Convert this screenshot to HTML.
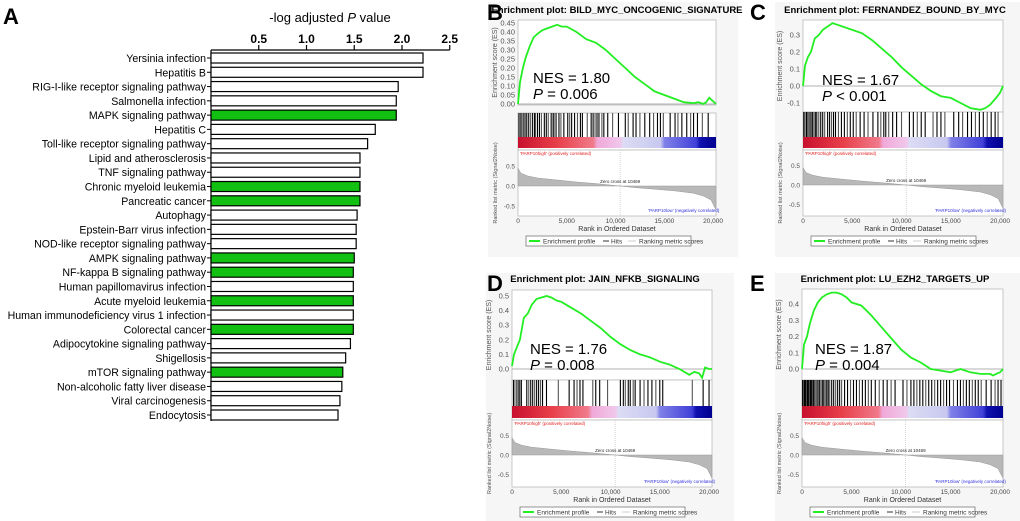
<!DOCTYPE html>
<html><head><meta charset="utf-8"><style>
body{margin:0;background:#fff;}
svg{display:block;font-family:"Liberation Sans",Arial,sans-serif;}
</style></head><body>
<svg id="fig" width="1020" height="521" viewBox="0 0 1020 521">
<defs>
<linearGradient id="cbar" x1="0" x2="1" y1="0" y2="0">
<stop offset="0" stop-color="#c8102e"/><stop offset="0.2" stop-color="#e8404a"/><stop offset="0.38" stop-color="#f07a8a"/>
<stop offset="0.4" stop-color="#f0a8d8"/><stop offset="0.52" stop-color="#f0c8ec"/><stop offset="0.53" stop-color="#dcdcf4"/>
<stop offset="0.72" stop-color="#c8c8f0"/><stop offset="0.74" stop-color="#8080e8"/><stop offset="0.9" stop-color="#4040d8"/>
<stop offset="0.92" stop-color="#1010b0"/><stop offset="1" stop-color="#000090"/>
</linearGradient>
</defs>
<g id="panelA"></g>
<g id="gsea"></g>
</svg>
<script>
const NS="http://www.w3.org/2000/svg";
// Panel A data
const pathways=["Yersinia infection","Hepatitis B","RIG-I-like  receptor  signaling  pathway","Salmonella infection","MAPK signaling pathway","Hepatitis C","Toll-like receptor signaling pathway","Lipid and atherosclerosis","TNF signaling pathway","Chronic myeloid leukemia","Pancreatic cancer","Autophagy","Epstein-Barr virus infection","NOD-like receptor signaling pathway","AMPK signaling pathway","NF-kappa B signaling pathway","Human papillomavirus  infection","Acute myeloid leukemia","Human immunodeficiency virus 1 infection","Colorectal cancer","Adipocytokine signaling pathway","Shigellosis","mTOR signaling pathway","Non-alcoholic fatty liver disease","Viral carcinogenesis","Endocytosis"];
const logP=[2.22,2.22,1.96,1.94,1.94,1.72,1.64,1.56,1.56,1.56,1.56,1.53,1.52,1.52,1.50,1.49,1.49,1.49,1.49,1.49,1.46,1.41,1.38,1.37,1.35,1.33];
const highlighted=[0,0,0,0,1,0,0,0,0,1,1,0,0,0,1,1,0,1,0,1,0,0,1,0,0,0];
const xTicks=[0.5,1.0,1.5,2.0,2.5];

// GSEA data
const panelLetters=["B","C","D","E"];
const titles=["Enrichment plot: BILD_MYC_ONCOGENIC_SIGNATURE","Enrichment plot: FERNANDEZ_BOUND_BY_MYC","Enrichment plot: JAIN_NFKB_SIGNALING","Enrichment plot: LU_EZH2_TARGETS_UP"];
const nesText=["NES = 1.80","NES = 1.67","NES = 1.76","NES = 1.87"];
const pText=[" = 0.006"," < 0.001"," = 0.008"," = 0.004"];
const esRanks=[0,200,500,800,1200,1600,2000,2500,3000,3500,4000,4500,5000,6000,7000,8000,9000,10000,11000,12000,13000,14000,15000,16000,17000,18000,18500,19000,19300,19600,20000,20300];
const esB=[0,0.12,0.2,0.26,0.32,0.37,0.39,0.41,0.42,0.43,0.44,0.43,0.43,0.40,0.36,0.34,0.30,0.25,0.20,0.15,0.11,0.07,0.05,0.03,0.01,0.005,0.01,0.0,0.01,0.035,0.015,0.0];
const esC=[0,0.12,0.17,0.2,0.28,0.3,0.33,0.35,0.37,0.36,0.35,0.34,0.33,0.31,0.27,0.22,0.17,0.11,0.06,0.01,-0.03,-0.06,-0.07,-0.1,-0.13,-0.14,-0.13,-0.11,-0.09,-0.07,-0.04,0.0];
const esD=[0.02,0.1,0.15,0.2,0.35,0.38,0.44,0.48,0.49,0.5,0.49,0.47,0.46,0.42,0.38,0.33,0.28,0.22,0.17,0.13,0.10,0.08,0.05,0.03,0.0,-0.04,-0.02,-0.03,-0.06,0.01,0.0,0.0];
const esE=[0,0.15,0.2,0.28,0.36,0.41,0.44,0.46,0.47,0.47,0.46,0.44,0.41,0.39,0.33,0.26,0.19,0.12,0.07,0.04,0.0,-0.01,-0.02,0.0,-0.02,-0.03,-0.03,-0.03,-0.04,-0.03,-0.02,0.0];
const esSeries=[esB,esC,esD,esE];
const yTickB=[0,0.05,0.1,0.15,0.2,0.25,0.3,0.35,0.4,0.45];
const yTickC=[-0.1,0,0.1,0.2,0.3];
const yTickD=[0,0.1,0.2,0.3,0.4,0.5];
const yTickE=[0,0.1,0.2,0.3,0.4];
const yTickSets=[yTickB,yTickC,yTickD,yTickE];
const hitsB=[100,250,400,600,750,900,1100,1300,1500,1700,1800,2000,2200,2400,2700,2900,3100,3400,3600,3700,3900,4200,4400,4700,5100,5300,5500,5800,6100,6400,6600,7100,7500,7700,7900,8100,8300,8600,8800,9200,9700,10300,11000,11300,11800,12100,12500,13000,13500,13900,14300,14600,14900,15600,16100,16400,16800,17300,17700,18000,18400,18900,19500];
const hitsC=[80,200,350,500,650,800,950,1100,1250,1400,1600,1800,2000,2200,2500,2700,2900,3100,3300,3600,3900,4200,4500,4800,5100,5400,5800,6200,6600,7100,7600,7900,8200,8400,8700,9100,9500,10000,10800,11200,11600,12000,12400,13200,13600,14000,14400,15300,15800,16200,16700,17100,17500,17900,18300,18700,19100,19500,19800];
const hitsD=[150,300,500,700,800,950,1500,1700,1900,2100,2300,2500,2700,2900,3100,3500,4700,5800,6300,6600,6900,7200,8200,8500,8900,9700,11000,11300,11500,11800,12000,12300,12500,13000,13400,13800,14200,14600,15000,15300,18300,19400,20000];
const hitsE=[50,150,250,350,450,550,650,750,850,950,1050,1150,1300,1450,1600,1750,1900,2050,2200,2350,2500,2650,2800,3000,3200,3400,3600,3800,4000,4300,4600,4900,5200,5500,5800,6100,6400,6700,7000,7400,7800,8200,8600,9000,9400,10200,10600,11000,11300,11600,11900,12200,12500,12800,13100,13400,13700,14000,14300,14600,14900,15300,15700,16000,16300,16600,16900,17200,17500,17800,18100,18600,19100,19500,19800,20100];
const hitSets=[hitsB,hitsC,hitsD,hitsE];
const metricRanks=[0,300,1000,2000,4000,6000,8000,10469,12000,14000,16000,18000,19000,19800,20300];
const metricVals=[0.45,0.32,0.25,0.2,0.15,0.1,0.06,0,-0.04,-0.08,-0.12,-0.18,-0.25,-0.35,-0.6];
const rankTicks=[0,5000,10000,15000,20000];
const rankTickLabels=["0","5,000","10,000","15,000","20,000"];
const metricTicks=[0.5,0,-0.5];
const metricTickLabels=["0.5","0.0","-0.5"];

const geo=[
 {L:518,R:716,T:20,esB:105,yMax:0.45,yMaxY:23,zeroY:104,hT:113,hB:143,cB:150,mB:216,mZ:186,letX:487,letY:20,titleX:617,titleY:13,bgX:488,bgY:2,nesX:533,nesY:83},
 {L:803,R:1003,T:20,esB:112,yMax:0.3,yMaxY:35,zeroY:86,hT:112,hB:143,cB:150,mB:216,mZ:185,letX:750,letY:20,titleX:895,titleY:13,bgX:775,bgY:2,nesX:822,nesY:85},
 {L:512,R:712,T:290,esB:380,yMax:0.5,yMaxY:296,zeroY:369,hT:380,hB:412,cB:420,mB:487,mZ:455,letX:487,letY:291,titleX:605,titleY:282,bgX:486,bgY:273,nesX:530,nesY:354},
 {L:802,R:1003,T:289,esB:380,yMax:0.4,yMaxY:304,zeroY:369,hT:380,hB:412,cB:420,mB:487,mZ:455,letX:750,letY:291,titleX:895,titleY:282,bgX:775,bgY:273,nesX:815,nesY:354}
];

function el(tag,attrs,parent,text){const e=document.createElementNS(NS,tag);for(const k in attrs)e.setAttribute(k,attrs[k]);if(text!==undefined)e.textContent=text;parent.appendChild(e);return e;}

// ---- Panel A
const A=document.getElementById('panelA');
const x0=211,pxPer=95.5;
const xA=v=>x0+v*pxPer;
const rowTop=i=>53+i*14.28;
let t=el('text',{x:3,y:24,'font-size':22,'font-weight':'bold'},A,'A');


t=el('text',{x:330,y:22,'font-size':13,'text-anchor':'middle'},A);


t.innerHTML='-log adjusted <tspan font-style="italic">P</tspan> value';
let ax=el('line',{x1:x0,y1:50,x2:xA(2.5),y2:50,stroke:'#000','stroke-width':1.3},A);


xTicks.forEach(v=>{
 el('line',{x1:xA(v),y1:50,x2:xA(v),y2:45,stroke:'#000','stroke-width':1.2},A);
 const tl=el('text',{x:xA(v),y:43,'font-size':12,'font-weight':'bold','text-anchor':'middle'},A,v.toFixed(1));
 
 
});
el('line',{x1:x0,y1:50,x2:x0,y2:rowTop(25)+11,stroke:'#000','stroke-width':1.2},A);
pathways.forEach((p,i)=>{
 const y=rowTop(i);
 const r=el('rect',{x:x0,y:y,width:xA(logP[i])-x0,height:10,fill:highlighted[i]?'#11c011':'#fff',stroke:'#000','stroke-width':1.2},A);
 
 
 el('line',{x1:x0-4,y1:y+5,x2:x0,y2:y+5,stroke:'#000','stroke-width':1},A);
 const lb=el('text',{x:x0-5,y:y+9,'font-size':10.6,'text-anchor':'end'},A,p);
 
 
});

// ---- GSEA panels
const G=document.getElementById('gsea');
geo.forEach((g,pi)=>{
 const P=el('g',{},G);
 
 
 el('rect',{x:g.bgX,y:g.bgY,width:g.R-g.bgX+22,height:255,fill:'#f6f6f6'},P);
 const L=el('text',{x:g.letX,y:g.letY,'font-size':22,'font-weight':'bold'},P,panelLetters[pi]);
 
 
 const tt=el('text',{x:g.titleX,y:g.titleY,'font-size':9.5,'font-weight':'bold','text-anchor':'middle'},P,titles[pi]);
 
 
 const xs=r=>g.L+(r/20300)*(g.R-g.L);
 const ys=v=>g.zeroY-(v/g.yMax)*(g.zeroY-g.yMaxY);
 el('rect',{x:g.L,y:g.T,width:g.R-g.L,height:g.esB-g.T,fill:'#fff',stroke:'#bbb','stroke-width':0.8},P);
 el('rect',{x:g.L,y:g.hT,width:g.R-g.L,height:g.cB-g.hT,fill:'#fff',stroke:'#bbb','stroke-width':0.8},P);
 el('rect',{x:g.L,y:g.cB,width:g.R-g.L,height:g.mB-g.cB,fill:'#fff',stroke:'#bbb','stroke-width':0.8},P);
 el('line',{x1:g.L,y1:ys(0),x2:g.R,y2:ys(0),stroke:'#999','stroke-width':0.8},P);
 yTickSets[pi].forEach(v=>{
  const tl=el('text',{x:g.L-3,y:ys(v)+2.5,'font-size':7.5,fill:'#555','text-anchor':'end'},P,v.toFixed(pi==0?2:1));
  
  
 });
 const ylab=el('text',{x:0,y:0,'font-size':7,fill:'#555','text-anchor':'middle',transform:`translate(${g.L-21},${(g.T+g.esB)/2}) rotate(-90)`},P,'Enrichment score (ES)');
 
 
 const es=esSeries[pi];
 const d=esRanks.map((r,i)=>(i?'L':'M')+xs(r).toFixed(1)+','+ys(es[i]).toFixed(1)).join(' ');
 const cv=el('path',{d:d,fill:'none',stroke:'#22ee22','stroke-width':1.8},P);
 
 
 const n1=el('text',{x:g.nesX,y:g.nesY,'font-size':15},P,nesText[pi]);
 
 
 const n2=el('text',{x:g.nesX,y:g.nesY+16,'font-size':15},P);
 
 
 n2.innerHTML='<tspan font-style="italic">P</tspan>'+pText[pi];
 hitSets[pi].forEach((h,i)=>{
  const hl=el('line',{x1:xs(h),y1:g.hT,x2:xs(h),y2:g.hB-6,stroke:i%3==1?'#555':'#000','stroke-width':1.1},P);
  
  
 });
 const cbr=el('rect',{x:g.L,y:g.hB-6,width:xs(20300)-g.L,height:g.cB-g.hB+4,fill:'url(#cbar)'},P);
 
 
 el('text',{x:g.L+2,y:g.cB+5,'font-size':4.5,fill:'#e02020'},P,"'PARP10high' (positively correlated)");
 const mScale=(g.mZ-g.cB)/0.9;
 const ym=v=>g.mZ-v*mScale;
 let md='M'+xs(0)+','+ym(0);
 metricRanks.forEach((r,i)=>{md+=' L'+xs(r).toFixed(1)+','+ym(metricVals[i]).toFixed(1);});
 md+=' L'+xs(20300)+','+ym(0)+' Z';
 const ma=el('path',{d:md,fill:'#b8b8b8',stroke:'#999','stroke-width':0.5},P);
 
 
 el('line',{x1:xs(10469),y1:g.cB,x2:xs(10469),y2:g.mB,stroke:'#bbb','stroke-width':0.6,'stroke-dasharray':'1,1'},P);
 el('text',{x:xs(10469),y:g.mZ-3,'font-size':4.5,fill:'#222','text-anchor':'middle'},P,'Zero cross at 10469');
 el('text',{x:xs(17000),y:g.mB-4,'font-size':4.5,fill:'#3030e0','text-anchor':'middle'},P,"'PARP10low' (negatively correlated)");
 metricTicks.forEach((v,i)=>{el('text',{x:g.L-3,y:ym(v)+2.5,'font-size':6.5,fill:'#555','text-anchor':'end'},P,metricTickLabels[i]);});
 el('text',{x:0,y:0,'font-size':5.5,fill:'#555','text-anchor':'middle',transform:`translate(${g.L-21},${(g.cB+g.mB)/2}) rotate(-90)`},P,'Ranked list metric (Signal2Noise)');
 rankTicks.forEach((r,i)=>{
  const tl=el('text',{x:xs(r),y:g.mB+7,'font-size':6.5,fill:'#444','text-anchor':'middle'},P,rankTickLabels[i]);
  
  
 });
 const xt=el('text',{x:(g.L+g.R)/2,y:g.mB+15,'font-size':7,fill:'#333','text-anchor':'middle'},P,'Rank in Ordered Dataset');
 
 
 const lg=el('g',{},P);
 
 
 const lx=g.L+8,ly=g.mB+20;
 el('rect',{x:lx,y:ly,width:165,height:10,fill:'#fff',stroke:'#666','stroke-width':0.7},lg);
 el('line',{x1:lx+3,y1:ly+5,x2:lx+14,y2:ly+5,stroke:'#22ee22','stroke-width':2},lg);
 el('text',{x:lx+17,y:ly+7.5,'font-size':6.5,fill:'#333'},lg,'Enrichment profile');
 el('line',{x1:lx+77,y1:ly+5,x2:lx+83,y2:ly+5,stroke:'#333','stroke-width':1},lg);
 el('text',{x:lx+85,y:ly+7.5,'font-size':6.5,fill:'#333'},lg,'Hits');
 el('line',{x1:lx+102,y1:ly+5,x2:lx+110,y2:ly+5,stroke:'#ccc','stroke-width':1},lg);
 el('text',{x:lx+113,y:ly+7.5,'font-size':6.5,fill:'#333'},lg,'Ranking metric scores');
});
</script>
</body></html>
